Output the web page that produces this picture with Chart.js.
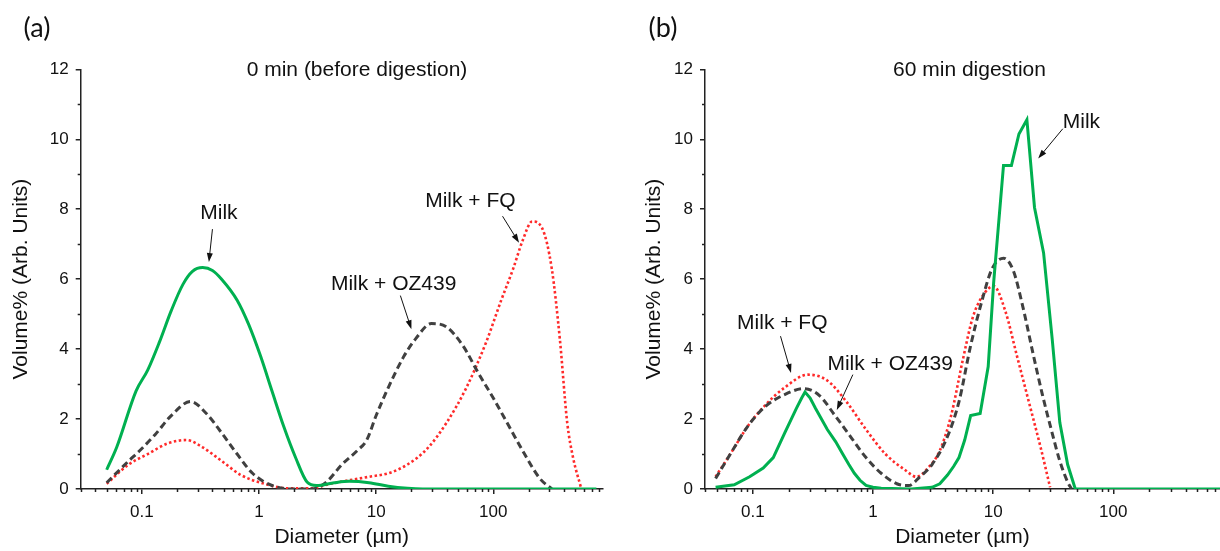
<!DOCTYPE html>
<html>
<head>
<meta charset="utf-8">
<script src="https://cdn.jsdelivr.net/npm/chart.js@4.4.1/dist/chart.umd.min.js"></script>
<style>
  html, body { margin: 0; padding: 0; background: #fff; overflow: hidden; }
  #boxA { position: absolute; left: 0; top: 0; }
  #boxB { position: absolute; left: 610px; top: 0; }
</style>
</head>
<body>
<div id="boxA"><canvas id="chartA" width="610" height="551"></canvas></div>
<div id="boxB"><canvas id="chartB" width="610" height="551"></canvas></div>
<script>
// ---- panel (a): 0 min (before digestion) ----
const aMilkDia = [0.05, 0.061, 0.089, 0.112, 0.141, 0.178, 0.224, 0.27, 0.33, 0.4, 0.479, 0.65, 0.817, 1.03, 1.29, 1.62, 2.05, 2.57, 3.1, 4.4, 5.9, 8.7, 12.7, 18.5, 25, 100, 760];
const aMilkVol = [0.55, 1.2, 2.8, 3.4, 4.2, 5.1, 5.85, 6.22, 6.33, 6.25, 6.0, 5.4, 4.7, 3.8, 2.8, 1.8, 0.9, 0.2, 0.1, 0.18, 0.22, 0.18, 0.08, 0.02, 0, 0, 0];
const aOzDia = [0.05, 0.077, 0.096, 0.13, 0.178, 0.26, 0.355, 0.48, 0.65, 0.88, 1.29, 1.9, 2.8, 3.76, 5.1, 6.9, 8.3, 10, 12.7, 17.3, 21.8, 29.6, 40, 55, 75, 100, 136, 185, 250, 316];
const aOzVol = [0.18, 0.8, 1.1, 1.56, 2.1, 2.5, 2.16, 1.6, 1.0, 0.45, 0.1, 0, 0, 0.2, 0.7, 1.1, 1.4, 2.1, 2.9, 3.8, 4.3, 4.73, 4.63, 4.1, 3.3, 2.6, 1.8, 1.0, 0.3, 0];
const aFqDia = [0.05, 0.077, 0.112, 0.165, 0.24, 0.327, 0.48, 0.70, 1.11, 1.75, 2.8, 4.07, 5.9, 8.7, 12.7, 18.5, 27.4, 40, 59, 87, 117, 148, 178, 215, 262, 316, 370, 428, 480, 560];
const aFqVol = [0.15, 0.7, 1.0, 1.3, 1.4, 1.2, 0.8, 0.4, 0.15, 0.02, 0.02, 0.15, 0.25, 0.35, 0.45, 0.7, 1.16, 1.9, 2.9, 4.2, 5.4, 6.3, 7.1, 7.65, 7.45, 6.3, 4.3, 1.9, 0.9, 0.05];

// ---- panel (b): 60 min digestion ----
const bMilkDia = [0.049, 0.07, 0.094, 0.122, 0.148, 0.184, 0.23, 0.255, 0.272, 0.3, 0.333, 0.417, 0.49, 0.56, 0.63, 0.70, 0.78, 0.875, 1.0, 1.17, 2.1, 3.1, 3.6, 4.17, 4.7, 5.2, 5.8, 6.5, 7.8, 9.1, 10.1, 12.2, 14.2, 16.4, 19.1, 22.1, 26.3, 31, 35.9, 41.7, 48.3, 1000];
const bMilkVol = [0.05, 0.12, 0.35, 0.6, 0.9, 1.6, 2.3, 2.6, 2.77, 2.6, 2.3, 1.7, 1.35, 1.0, 0.7, 0.45, 0.25, 0.1, 0.05, 0.02, 0, 0.05, 0.15, 0.4, 0.65, 0.9, 1.4, 2.1, 2.16, 3.5, 5.9, 9.25, 9.25, 10.15, 10.56, 8.05, 6.75, 4.3, 1.9, 0.7, 0, 0];
const bOzDia = [0.049, 0.065, 0.091, 0.127, 0.184, 0.267, 0.359, 0.483, 0.65, 0.875, 1.17, 1.58, 1.98, 2.46, 3.1, 4.17, 5.2, 6.5, 8.1, 9.8, 12.2, 14.7, 17.7, 21.4, 25.7, 31, 35.9, 41.7, 45];
const bOzVol = [0.3, 1.0, 1.8, 2.36, 2.7, 2.87, 2.67, 2.1, 1.5, 0.9, 0.45, 0.15, 0.1, 0.35, 0.7, 1.5, 2.5, 4.1, 5.4, 6.3, 6.6, 6.25, 5.2, 3.9, 2.7, 1.6, 0.8, 0.2, 0];
const bFqDia = [0.049, 0.065, 0.091, 0.127, 0.184, 0.287, 0.417, 0.6, 0.875, 1.27, 1.84, 2.3, 2.87, 3.6, 4.47, 5.6, 6.76, 8.1, 10.1, 12.6, 15.8, 19.8, 24.8, 29.8];
const bFqVol = [0.35, 1.0, 1.8, 2.4, 2.9, 3.27, 3.1, 2.5, 1.7, 1.0, 0.55, 0.35, 0.6, 1.1, 2.1, 3.7, 4.9, 5.5, 5.8, 5.1, 3.8, 2.5, 1.2, 0.05];

const xDecades = [0.1, 1, 10, 100];
const yMajor = [0, 2, 4, 6, 8, 10, 12];
const seriesNames = ['Milk', 'Milk + OZ439', 'Milk + FQ'];

const FONT = "'Liberation Sans', Arial, sans-serif";

function pts(xs, ys) {
    return xs.map((x, i) => ({ x: x, y: ys[i] }));
}

// ticks menores, titulos y flechas de cada panel
const decorPlugin = {
    id: 'decor',
    afterDraw(chart) {
        const o = chart.options.plugins.decor;
        const ctx = chart.ctx;
        const xs = chart.scales.x, ys = chart.scales.y;
        ctx.save();
        ctx.strokeStyle = '#222';
        ctx.lineWidth = 1.5;
        for (let d = -2; d <= 3; d++) {
            for (let k = 2; k <= 9; k++) {
                const v = k * Math.pow(10, d);
                if (v < xs.min || v > xs.max) continue;
                const px = Math.round(xs.getPixelForValue(v)) + 0.5;
                ctx.beginPath(); ctx.moveTo(px, xs.top); ctx.lineTo(px, xs.top + 3); ctx.stroke();
            }
        }
        for (let v = 1; v < ys.max; v += 2) {
            const py = Math.round(ys.getPixelForValue(v)) + 0.5;
            ctx.beginPath(); ctx.moveTo(ys.right, py); ctx.lineTo(ys.right - 3, py); ctx.stroke();
        }
        ctx.fillStyle = '#111';
        ctx.textAlign = 'center';
        ctx.textBaseline = 'middle';
        ctx.font = "27px Lato, 'Open Sans', sans-serif";
        ctx.fillText(o.letter, o.letterX, 28);
        ctx.font = '21px ' + FONT;
        ctx.fillText(o.title, o.titleX, 70);
        o.notes.forEach(n => {
            const tx = xs.getPixelForValue(n.text[0]), ty = ys.getPixelForValue(n.text[1]);
            ctx.fillText(n.label, tx, ty);
            const x0 = xs.getPixelForValue(n.from[0]), y0 = ys.getPixelForValue(n.from[1]);
            const x1 = xs.getPixelForValue(n.to[0]), y1 = ys.getPixelForValue(n.to[1]);
            const ang = Math.atan2(y1 - y0, x1 - x0);
            ctx.strokeStyle = '#111';
            ctx.lineWidth = 1;
            ctx.beginPath(); ctx.moveTo(x0, y0); ctx.lineTo(x1 - 6 * Math.cos(ang), y1 - 6 * Math.sin(ang)); ctx.stroke();
            ctx.beginPath();
            ctx.moveTo(x1, y1);
            ctx.lineTo(x1 - 9 * Math.cos(ang) + 3 * Math.sin(ang), y1 - 9 * Math.sin(ang) - 3 * Math.cos(ang));
            ctx.lineTo(x1 - 9 * Math.cos(ang) - 3 * Math.sin(ang), y1 - 9 * Math.sin(ang) + 3 * Math.cos(ang));
            ctx.closePath();
            ctx.fill();
        });
        ctx.restore();
    }
};

function makePanel(id, p) {
    const ctx = document.getElementById(id).getContext('2d');
    return new Chart(ctx, {
        type: 'line',
        data: {
            datasets: [{
                label: seriesNames[0],
                data: pts(p.milk[0], p.milk[1]),
                borderColor: '#00b050',
                borderWidth: 3,
                pointRadius: 0,
                tension: p.milkTension,
                cubicInterpolationMode: p.milkTension ? 'monotone' : 'default'
            }, {
                label: seriesNames[1],
                data: pts(p.oz[0], p.oz[1]),
                borderColor: '#404040',
                borderWidth: 3,
                borderDash: [7, 4],
                pointRadius: 0,
                cubicInterpolationMode: 'monotone'
            }, {
                label: seriesNames[2],
                data: pts(p.fq[0], p.fq[1]),
                borderColor: '#ff2a2a',
                borderWidth: 2.6,
                borderDash: [2.5, 2.5],
                pointRadius: 0,
                cubicInterpolationMode: 'monotone'
            }]
        },
        options: {
            responsive: false,
            animation: false,
            layout: { padding: { left: 0, right: p.padRight, top: 69.3, bottom: 0 } },
            plugins: {
                legend: { display: false },
                tooltip: { enabled: false },
                decor: p.decor
            },
            scales: {
                x: {
                    type: 'logarithmic',
                    min: p.xMin,
                    max: p.xMax,
                    afterBuildTicks: s => { s.ticks = xDecades.map(v => ({ value: v })); },
                    afterFit: s => { s.height = 62; },
                    ticks: {
                        color: '#111',
                        font: { family: FONT, size: 17 },
                        padding: 8,
                        maxRotation: 0,
                        autoSkip: false,
                        callback: v => String(v)
                    },
                    grid: { drawOnChartArea: false, tickLength: 5, color: '#222', lineWidth: 1.5 },
                    border: { color: '#222', width: 1.5 },
                    title: {
                        display: true,
                        text: 'Diameter (µm)',
                        color: '#111',
                        font: { family: FONT, size: 21, lineHeight: 1.2 },
                        padding: { top: 0, bottom: 1 }
                    }
                },
                y: {
                    min: 0,
                    max: 12,
                    afterBuildTicks: s => { s.ticks = yMajor.map(v => ({ value: v })); },
                    afterFit: s => { s.width = p.yWidth; },
                    ticks: {
                        color: '#111',
                        font: { family: FONT, size: 17 },
                        padding: 7
                    },
                    grid: { drawOnChartArea: false, tickLength: 5, color: '#222', lineWidth: 1.5 },
                    border: { color: '#222', width: 1.5 },
                    title: {
                        display: true,
                        text: 'Volume% (Arb. Units)',
                        color: '#111',
                        font: { family: FONT, size: 21, lineHeight: 1.2 },
                        padding: { top: p.yTitlePad, bottom: 0 }
                    }
                }
            }
        },
        plugins: [decorPlugin]
    });
}

makePanel('chartA', {
    milk: [aMilkDia, aMilkVol], oz: [aOzDia, aOzVol], fq: [aFqDia, aFqVol],
    milkTension: 0.4,
    xMin: 0.03, xMax: 860, padRight: 7.3, yWidth: 80.7, yTitlePad: 9,
    decor: {
        letter: '(a)', letterX: 37, title: '0 min (before digestion)', titleX: 357,
        notes: [
            { label: 'Milk', text: [0.454, 7.89], from: [0.40, 7.43], to: [0.373, 6.49] },
            { label: 'Milk + OZ439', text: [14.1, 5.86], from: [16.1, 5.53], to: [20, 4.57] },
            { label: 'Milk + FQ', text: [63.8, 8.24], from: [120, 7.8], to: [166, 7.04] }
        ]
    }
});

makePanel('chartB', {
    milk: [bMilkDia, bMilkVol], oz: [bOzDia, bOzVol], fq: [bFqDia, bFqVol],
    milkTension: 0,
    xMin: 0.04, xMax: 773, padRight: 0, yWidth: 95, yTitlePad: 32,
    decor: {
        letter: '(b)', letterX: 53, title: '60 min digestion', titleX: 359.5,
        notes: [
            { label: 'Milk', text: [54.3, 10.49], from: [38, 10.3], to: [23.7, 9.45] },
            { label: 'Milk + FQ', text: [0.176, 4.74], from: [0.170, 4.37], to: [0.208, 3.32] },
            { label: 'Milk + OZ439', text: [1.39, 3.57], from: [0.68, 3.27], to: [0.50, 2.26] }
        ]
    }
});
</script>
</body>
</html>
